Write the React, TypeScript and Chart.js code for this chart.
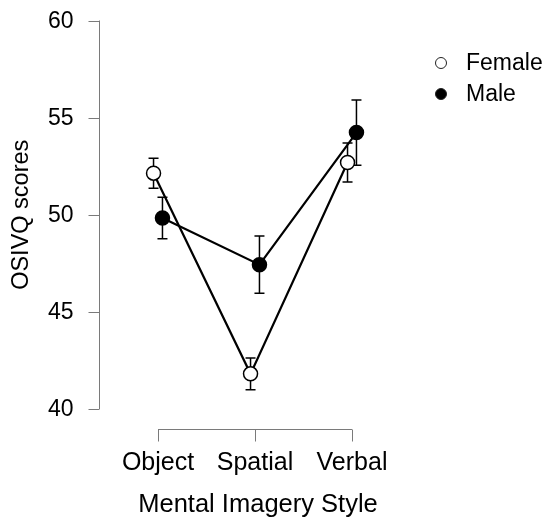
import React, { useEffect, useRef } from "react";
import { Chart, registerables } from "chart.js";

Chart.register(...registerables);

const categories = ["Object", "Spatial", "Verbal"];
const seriesLabels = ["Female", "Male"];
const femaleMeans = [52.14, 41.81, 52.69];
const femaleErr = [0.77, 0.82, 1.0];
const maleMeans = [49.83, 47.43, 54.23];
const maleErr = [1.07, 1.47, 1.68];
const yTicks = [40, 45, 50, 55, 60];
const xTitle = "Mental Imagery Style";
const yTitle = "OSIVQ scores";

const DODGE = 0.046;
const FONT = "'Liberation Sans', Arial, sans-serif";

export default function App() {
  const ref = useRef<HTMLCanvasElement | null>(null);

  useEffect(() => {
    document.body.style.margin = "0";
    const canvas = ref.current;
    if (!canvas) return;

    const errs = [femaleErr, maleErr];

    const errorBars = {
      id: "errorBars",
      beforeDatasetsDraw(chart: any) {
        const ctx = chart.ctx;
        const xs = chart.scales.x;
        const ys = chart.scales.y;
        ctx.save();
        ctx.strokeStyle = "#000";
        ctx.lineWidth = 1.5;
        chart.data.datasets.forEach((ds: any, di: number) => {
          ds.data.forEach((p: any, i: number) => {
            const px = xs.getPixelForValue(p.x);
            const top = ys.getPixelForValue(p.y + errs[di][i]);
            const bot = ys.getPixelForValue(p.y - errs[di][i]);
            ctx.beginPath();
            ctx.moveTo(px, top);
            ctx.lineTo(px, bot);
            ctx.moveTo(px - 5, top);
            ctx.lineTo(px + 5, top);
            ctx.moveTo(px - 5, bot);
            ctx.lineTo(px + 5, bot);
            ctx.stroke();
          });
        });
        ctx.restore();
      },
    };

    const axes = {
      id: "jaspAxes",
      afterDraw(chart: any) {
        const ctx = chart.ctx;
        const xs = chart.scales.x;
        const ys = chart.scales.y;
        const area = chart.chartArea;
        ctx.save();
        // y axis
        const ax = Math.round(area.left) - 0.5;
        const yTop = ys.getPixelForValue(yTicks[yTicks.length - 1]);
        const yBot = ys.getPixelForValue(yTicks[0]);
        ctx.strokeStyle = "#7a7a7a";
        ctx.lineWidth = 1;
        ctx.beginPath();
        ctx.moveTo(ax, yTop);
        ctx.lineTo(ax, yBot);
        yTicks.forEach((t) => {
          const py = Math.round(ys.getPixelForValue(t)) + 0.5;
          ctx.moveTo(ax, py);
          ctx.lineTo(ax - 11, py);
        });
        ctx.stroke();
        ctx.fillStyle = "#000";
        ctx.font = `23px ${FONT}`;
        ctx.textAlign = "right";
        ctx.textBaseline = "middle";
        yTicks.forEach((t) => {
          ctx.fillText(String(t), ax - 26, ys.getPixelForValue(t) + 1);
        });

        // x axis
        const ay = Math.round(area.bottom + 20) + 0.5;
        const x0 = xs.getPixelForValue(1);
        const x1 = xs.getPixelForValue(categories.length);
        ctx.beginPath();
        ctx.moveTo(x0, ay);
        ctx.lineTo(x1, ay);
        categories.forEach((_, i) => {
          const px = Math.round(xs.getPixelForValue(i + 1)) + 0.5;
          ctx.moveTo(px, ay);
          ctx.lineTo(px, ay + 12);
        });
        ctx.stroke();
        ctx.font = `25px ${FONT}`;
        ctx.textAlign = "center";
        ctx.textBaseline = "alphabetic";
        categories.forEach((c, i) => {
          ctx.fillText(c, xs.getPixelForValue(i + 1), ay + 40);
        });

        // titles
        ctx.font = `25.5px ${FONT}`;
        ctx.fillText(xTitle, (x0 + x1) / 2 + 3, ay + 82);
        ctx.save();
        ctx.translate(22, (yTop + yBot) / 2);
        ctx.rotate(-Math.PI / 2);
        ctx.textBaseline = "middle";
        ctx.font = `23.5px ${FONT}`;
        ctx.fillText(yTitle, 0, 0);
        ctx.restore();

        // legend
        ctx.font = `23px ${FONT}`;
        ctx.textAlign = "left";
        ctx.textBaseline = "middle";
        const ly = [63, 94];
        chart.data.datasets.forEach((ds: any, di: number) => {
          ctx.beginPath();
          ctx.arc(441, ly[di], 5.5, 0, Math.PI * 2);
          ctx.fillStyle = ds.pointBackgroundColor;
          ctx.fill();
          ctx.strokeStyle = "#222";
          ctx.lineWidth = 1;
          ctx.stroke();
          ctx.fillStyle = "#000";
          ctx.fillText(ds.label, 466, ly[di] + 1);
        });
        ctx.restore();
      },
    };

    const chart = new Chart(canvas, {
      type: "scatter",
      data: {
        datasets: [
          {
            label: seriesLabels[0],
            data: femaleMeans.map((v, i) => ({ x: i + 1 - DODGE, y: v })),
            showLine: true,
            borderColor: "#000",
            borderWidth: 2.2,
            pointBackgroundColor: "#fff",
            pointBorderColor: "#000",
            pointBorderWidth: 1.5,
            pointRadius: 7,
            clip: false as any,
          },
          {
            label: seriesLabels[1],
            data: maleMeans.map((v, i) => ({ x: i + 1 + DODGE, y: v })),
            showLine: true,
            borderColor: "#000",
            borderWidth: 2.2,
            pointBackgroundColor: "#000",
            pointBorderColor: "#000",
            pointBorderWidth: 1.5,
            pointRadius: 7,
            clip: false as any,
          },
        ],
      },
      options: {
        responsive: false,
        animation: false,
        devicePixelRatio: 1,
        layout: { padding: { left: 100, right: 150, top: 20.5, bottom: 110 } },
        plugins: { legend: { display: false }, tooltip: { enabled: false } },
        scales: {
          x: { type: "linear", display: false, min: 0.402, max: 3.598 },
          y: { type: "linear", display: false, min: 40, max: 60 },
        },
      },
      plugins: [errorBars, axes],
    });

    return () => chart.destroy();
  }, []);

  return <canvas ref={ref} width={560} height={519} style={{ display: "block" }} />;
}
